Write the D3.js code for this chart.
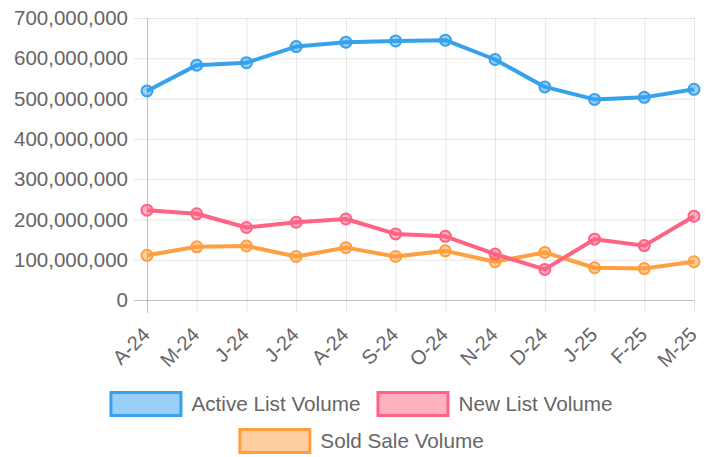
<!DOCTYPE html>
<html>
<head>
<meta charset="utf-8">
<title>List and Sale Volume</title>
<script src="https://cdnjs.cloudflare.com/ajax/libs/d3/7.8.5/d3.min.js"></script>
<style>
  body { margin: 0; background: #fff; }
  text { font-family: "Liberation Sans", Arial, sans-serif; fill: #666; }
</style>
</head>
<body>
<svg id="chart" width="712" height="457"></svg>
<script>
// data
var months = ["A-24","M-24","J-24","J-24","A-24","S-24","O-24","N-24","D-24","J-25","F-25","M-25"];
var activeList = [519e6,583e6,589e6,629e6,640e6,643e6,645e6,597e6,529e6,498e6,503e6,523e6];
var newList    = [223e6,214e6,180e6,193e6,201e6,164e6,158e6,114e6,76e6,151e6,135e6,208e6];
var soldSale   = [111e6,132e6,134e6,108e6,130e6,108e6,122e6,95e6,118e6,80e6,78e6,95e6];
var yTicks = [0,1e8,2e8,3e8,4e8,5e8,6e8,7e8];

var series = [
  {name: "Active List Volume", values: activeList, color: "rgb(54,162,235)", fill: "rgba(54,162,235,0.5)"},
  {name: "New List Volume",    values: newList,    color: "rgb(255,99,132)", fill: "rgba(255,99,132,0.5)"},
  {name: "Sold Sale Volume",   values: soldSale,   color: "rgb(255,159,64)", fill: "rgba(255,159,64,0.5)"}
];

// plot box (window.top is taken, so own names)
var plotL = 147, plotR = 694, plotT = 18, plotB = 300;
var svg = d3.select("#chart");

var x = d3.scalePoint().domain(d3.range(months.length)).range([plotL, plotR]);
var y = d3.scaleLinear().domain([0, 7e8]).range([plotB, plotT]);
var fmt = d3.format(",");

// horizontal grid + y labels
var gy = svg.append("g");
gy.selectAll("line").data(yTicks).enter().append("line")
  .attr("x1", plotL - 13).attr("x2", plotR)
  .attr("y1", function(d) { return y(d) + 0.5; }).attr("y2", function(d) { return y(d) + 0.5; })
  .attr("stroke", function(d) { return d === 0 ? "rgba(0,0,0,0.25)" : "rgba(0,0,0,0.1)"; })
  .attr("stroke-width", 1);
gy.selectAll("text").data(yTicks).enter().append("text")
  .attr("x", plotL - 19)
  .attr("y", function(d) { return y(d); })
  .attr("dy", "0.35em")
  .attr("text-anchor", "end")
  .style("font-size", "20.5px")
  .text(function(d) { return fmt(d); });

// vertical grid + x labels
var gx = svg.append("g");
gx.selectAll("line").data(d3.range(months.length)).enter().append("line")
  .attr("x1", function(d) { return x(d) + 0.5; }).attr("x2", function(d) { return x(d) + 0.5; })
  .attr("y1", plotT).attr("y2", plotB + 13)
  .attr("stroke", function(d) { return d === 0 ? "rgba(0,0,0,0.25)" : "rgba(0,0,0,0.1)"; })
  .attr("stroke-width", 1);
gx.selectAll("text").data(months).enter().append("text")
  .attr("text-anchor", "end")
  .attr("transform", function(d, i) { return "translate(" + (x(i) + 4) + "," + 336 + ") rotate(-45)"; })
  .style("font-size", "20px")
  .text(function(d) { return d; });

// lines, last dataset drawn first
var line = d3.line().x(function(d, i) { return x(i); }).y(function(d) { return y(d); });
series.slice().reverse().forEach(function(s) {
  var g = svg.append("g");
  g.append("path")
    .attr("d", line(s.values))
    .attr("fill", "none")
    .attr("stroke", s.color)
    .attr("stroke-width", 4)
    .attr("stroke-linejoin", "round");
  g.selectAll("circle").data(s.values).enter().append("circle")
    .attr("cx", function(d, i) { return x(i); })
    .attr("cy", function(d) { return y(d); })
    .attr("r", 5.5)
    .attr("fill", s.fill)
    .attr("stroke", s.color)
    .attr("stroke-width", 2);
});

// legend
var rows = [[series[0], series[1]], [series[2]]];
var rowY = [404, 441];
var boxW = 73, boxH = 23, gapText = 9, gapItem = 16, centre = 361;
rows.forEach(function(row, r) {
  var g = svg.append("g");
  var items = row.map(function(s) {
    var t = g.append("text").style("font-size", "20.7px").attr("dy", "0.35em").text(s.name);
    return {s: s, t: t, w: t.node().getComputedTextLength()};
  });
  var total = d3.sum(items, function(d) { return boxW + gapText + d.w; }) + gapItem * (items.length - 1);
  var cx = centre - total / 2;
  items.forEach(function(it) {
    g.append("rect")
      .attr("x", cx + 1.5).attr("y", rowY[r] - boxH / 2)
      .attr("width", boxW - 3).attr("height", boxH)
      .attr("fill", it.s.fill).attr("stroke", it.s.color).attr("stroke-width", 3);
    it.t.attr("x", cx + boxW + gapText).attr("y", rowY[r]);
    cx += boxW + gapText + it.w + gapItem;
  });
});
</script>
</body>
</html>
